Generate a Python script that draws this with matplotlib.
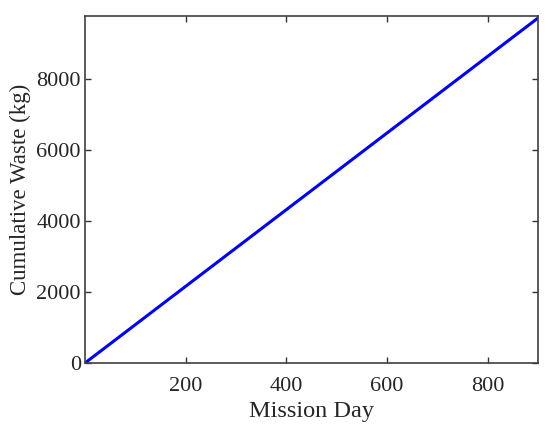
import matplotlib
matplotlib.use("Agg")
from matplotlib import pyplot as plt

plt.rcParams['font.family'] = ['Liberation Serif', 'DejaVu Serif']

# mission days and cumulative waste (kg), straight linear growth
days = [0, 900]
waste = [0, 9720]

fig = plt.figure(figsize=(5.5, 4.32), dpi=100)
ax = fig.add_axes([0.1545, 0.1597, 0.8236, 0.803])

ax.plot(days, waste, color='#0000ff', linewidth=2.2)

ax.set_xlim(0, 900)
ax.set_ylim(0, 9775)
ax.set_xticks([200, 400, 600, 800])
ax.set_yticks([0, 2000, 4000, 6000, 8000])

ax.tick_params(direction='in', top=True, right=True, length=4, width=1,
               labelsize=16, colors='#333333', labelcolor='#262626')
ax.tick_params(axis='x', pad=10)
ax.tick_params(axis='y', pad=3)
for s in ax.spines.values():
    s.set_color('#404040')
    s.set_linewidth(1.2)

ax.set_xlabel('Mission Day', fontsize=17.5, color='#262626', labelpad=4)
ax.set_ylabel('Cumulative Waste (kg)', fontsize=16.5, color='#262626', labelpad=4)

fig.savefig('out.png', dpi=100)
